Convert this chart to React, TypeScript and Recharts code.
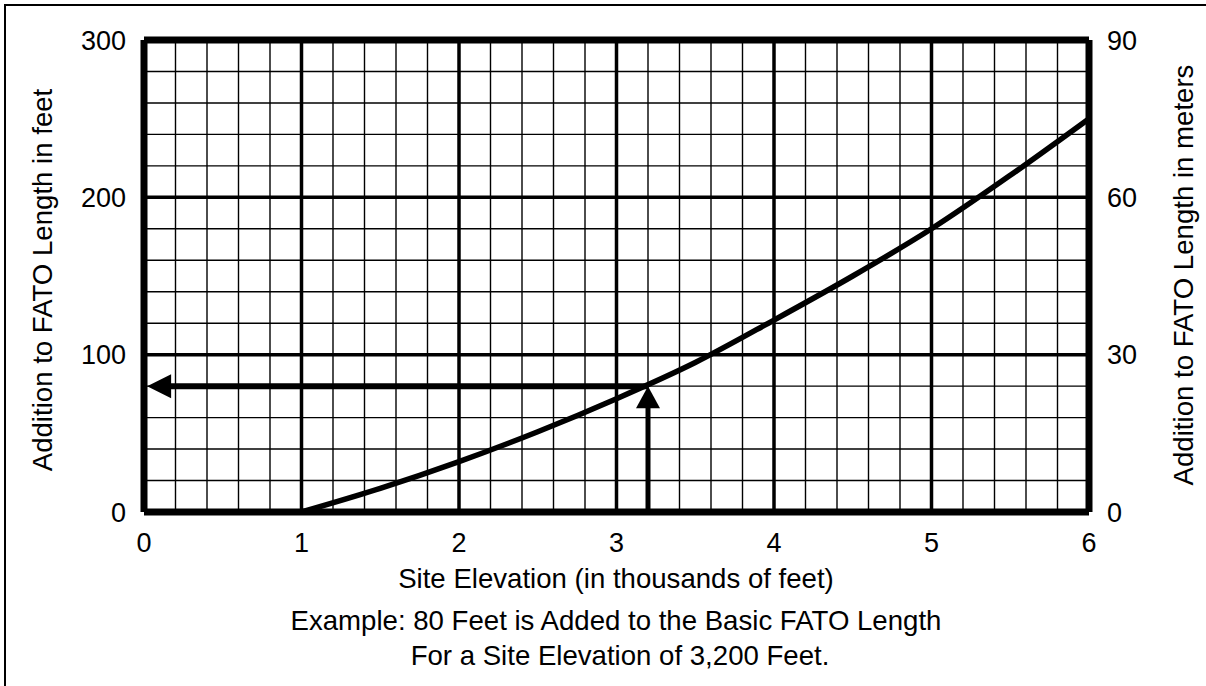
import {
  ComposedChart,
  Line,
  Scatter,
  XAxis,
  YAxis,
  ReferenceLine,
} from 'recharts';

// curve: site elevation (thousands of ft) -> addition (ft)
const elevation = [1, 1.5, 2, 2.5, 3, 3.5, 4, 4.5, 5, 5.5, 6];
const additionFeet = [0, 15, 32, 51, 72, 95, 122, 150, 180, 214, 250];

const xTicks = [0, 1, 2, 3, 4, 5, 6];
const feetTicks = [0, 100, 200, 300];
const meterTicks = [0, 30, 60, 90];

const minorX = [
  0.2, 0.4, 0.6, 0.8, 1.2, 1.4, 1.6, 1.8, 2.2, 2.4, 2.6, 2.8, 3.2, 3.4, 3.6,
  3.8, 4.2, 4.4, 4.6, 4.8, 5.2, 5.4, 5.6, 5.8,
];
const majorX = [1, 2, 3, 4, 5];
const minorY = [20, 40, 60, 80, 120, 140, 160, 180, 220, 240, 260, 280];
const majorY = [100, 200];

// example reading: 3,200 ft -> 80 ft
const exampleX = 3.2;
const exampleY = 80;

const curve = elevation.map((x, i) => ({ x, y: additionFeet[i] }));
const leftHead = [{ x: 0.02, y: exampleY }];
const upHead = [{ x: exampleX, y: exampleY }];
// invisible anchor so the metre axis gets drawn
const meterAnchor = meterTicks.map((m) => ({ x: 0, y: m }));

const FONT = '"Liberation Sans", Arial, sans-serif';
const tickStyle = { fill: '#000', fontSize: 27, fontFamily: FONT };

function LeftArrow(props: any) {
  const { cx, cy } = props;
  return <path d={`M${cx},${cy} L${cx + 24},${cy - 12} L${cx + 24},${cy + 12} Z`} fill="#000" />;
}

function UpArrow(props: any) {
  const { cx, cy } = props;
  return <path d={`M${cx},${cy} L${cx - 12},${cy + 22} L${cx + 12},${cy + 22} Z`} fill="#000" />;
}

const Nothing = () => <g />;

export default function App() {
  return (
    <div
      style={{
        position: 'absolute',
        left: 0,
        top: 0,
        width: 1206,
        height: 686,
        overflow: 'hidden',
        background: '#fff',
        fontFamily: FONT,
      }}
    >
      <div
        style={{
          position: 'absolute',
          left: 4,
          top: 4,
          width: 1300,
          height: 800,
          border: '2px solid #000',
        }}
      />
      <ComposedChart
        width={1206}
        height={686}
        margin={{ top: 40, right: 0, bottom: 144, left: 0 }}
        style={{ position: 'absolute', left: 0, top: 0 }}
      >
        <XAxis
          dataKey="x"
          type="number"
          domain={[0, 6]}
          ticks={xTicks}
          interval={0}
          height={30}
          axisLine={false}
          tickLine={false}
          tickSize={6}
          tickMargin={15}
          tick={tickStyle}
        />
        <YAxis
          yAxisId="left"
          type="number"
          domain={[0, 300]}
          ticks={feetTicks}
          interval={0}
          width={144}
          axisLine={false}
          tickLine={false}
          tickSize={6}
          tickMargin={12}
          tick={tickStyle}
        />
        <YAxis
          yAxisId="right"
          orientation="right"
          type="number"
          domain={[0, 90]}
          ticks={meterTicks}
          interval={0}
          width={117}
          axisLine={false}
          tickLine={false}
          tickSize={6}
          tickMargin={12}
          tick={tickStyle}
        />

        {minorX.map((v) => (
          <ReferenceLine key={`mx${v}`} yAxisId="left" x={v} stroke="#000" strokeWidth={1.4} />
        ))}
        {minorY.map((v) => (
          <ReferenceLine key={`my${v}`} yAxisId="left" y={v} stroke="#000" strokeWidth={1.4} />
        ))}
        {majorX.map((v) => (
          <ReferenceLine key={`Mx${v}`} yAxisId="left" x={v} stroke="#000" strokeWidth={3.5} />
        ))}
        {majorY.map((v) => (
          <ReferenceLine key={`My${v}`} yAxisId="left" y={v} stroke="#000" strokeWidth={3.5} />
        ))}

        <Scatter data={meterAnchor} yAxisId="right" dataKey="y" shape={Nothing} isAnimationActive={false} />

        <Line
          data={curve}
          yAxisId="left"
          dataKey="y"
          type="monotone"
          stroke="#000"
          strokeWidth={5.5}
          dot={false}
          activeDot={false}
          isAnimationActive={false}
        />

        <ReferenceLine
          yAxisId="left"
          segment={[
            { x: 0.1, y: exampleY },
            { x: exampleX, y: exampleY },
          ]}
          stroke="#000"
          strokeWidth={6}
        />
        <ReferenceLine
          yAxisId="left"
          segment={[
            { x: exampleX, y: 0 },
            { x: exampleX, y: exampleY - 5 },
          ]}
          stroke="#000"
          strokeWidth={5}
        />
        <Scatter data={leftHead} yAxisId="left" dataKey="y" shape={LeftArrow} isAnimationActive={false} />
        <Scatter data={upHead} yAxisId="left" dataKey="y" shape={UpArrow} isAnimationActive={false} />

        {/* plot frame */}
        <ReferenceLine yAxisId="left" x={0} stroke="#000" strokeWidth={7} />
        <ReferenceLine yAxisId="left" x={6} stroke="#000" strokeWidth={7} />
        <ReferenceLine yAxisId="left" y={0} stroke="#000" strokeWidth={7} />
        <ReferenceLine yAxisId="left" y={300} stroke="#000" strokeWidth={7} />
      </ComposedChart>

      <svg
        width={1206}
        height={686}
        style={{ position: 'absolute', left: 0, top: 0, pointerEvents: 'none' }}
        fontFamily={FONT}
        fontSize={27.6}
        fill="#000"
      >
        <text x={42} y={280} textAnchor="middle" dominantBaseline="central" transform="rotate(-90 42 280)">
          Addition to FATO Length in feet
        </text>
        <text x={1183} y={275} textAnchor="middle" dominantBaseline="central" transform="rotate(-90 1183 275)">
          Addition to FATO Length in meters
        </text>
        <text x={616} y={588} textAnchor="middle">
          Site Elevation (in thousands of feet)
        </text>
        <text x={616} y={630} textAnchor="middle">
          Example: 80 Feet is Added to the Basic FATO Length
        </text>
        <text x={620} y={665} textAnchor="middle">
          For a Site Elevation of 3,200 Feet.
        </text>
      </svg>
    </div>
  );
}
